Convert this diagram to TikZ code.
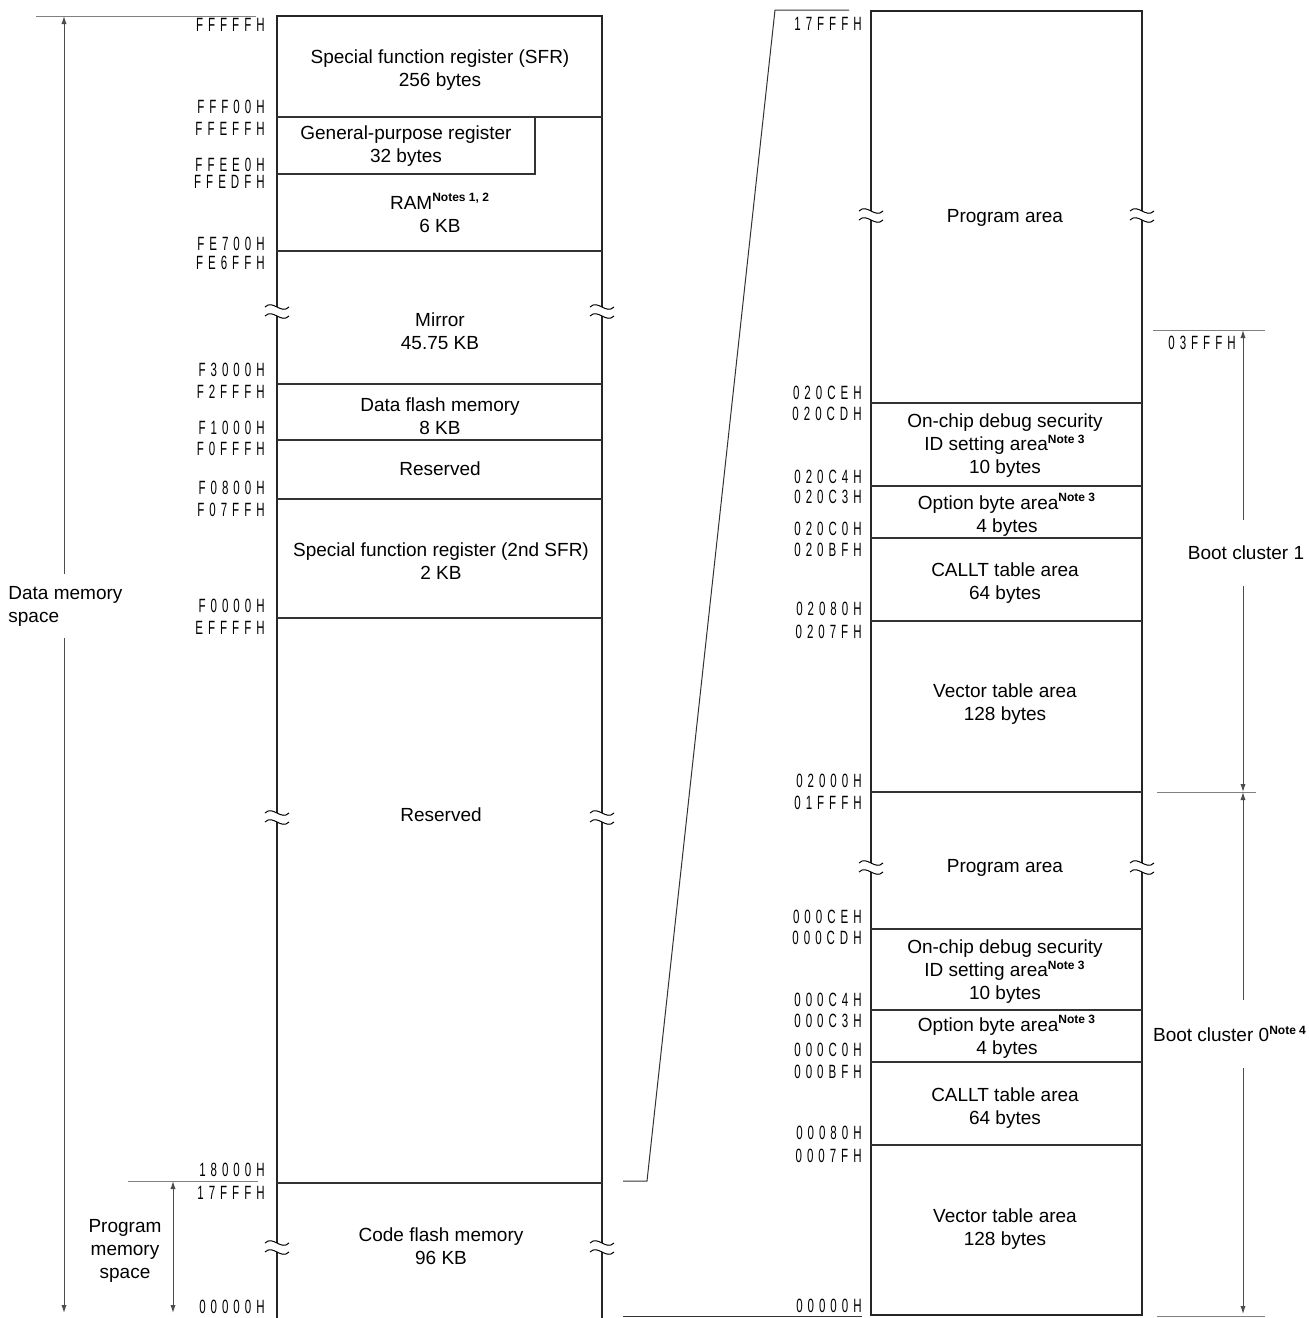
\documentclass[tikz,border=0pt]{standalone}
\usepackage{fontspec}
\setmainfont{Liberation Sans}
\newfontfamily\addrfont[FakeStretch=0.6,LetterSpace=26]{Liberation Sans}
\usetikzlibrary{arrows.meta}
\newcommand\notemark[1]{\textsuperscript{\fontsize{6}{7}\selectfont\bfseries #1}}

\begin{document}
\begin{tikzpicture}[
  x=0.5pt, y=-0.5pt,
  every node/.style={font=\fontsize{9.5}{11.5}\selectfont},
  area/.style={align=center, inner sep=1pt, yshift=-1pt},
  addr/.style={anchor=east, inner sep=0pt, font=\addrfont\fontsize{9.6}{10}\selectfont},
  frame/.style={line width=1.2pt, black!85},
  sep/.style={line width=0.6pt, black!80},
  guide/.style={line width=0.5pt, black!50},
  arr/.style={-{Latex[length=4pt,width=2.6pt]}, line width=0.5pt, black!70},
  span/.style={align=center, inner xsep=1pt, inner ysep=13pt},
  breakmark/.pic={
    \fill[white] (-12,-3) .. controls (-4,-11) and (4,5) .. (12,-3)
      -- (12,6) .. controls (4,14) and (-4,-2) .. (-12,6) -- cycle;
    \draw[line width=0.5pt] (-12,-3) .. controls (-4,-11) and (4,5) .. (12,-3);
    \draw[line width=0.5pt] (-12,6) .. controls (-4,-2) and (4,14) .. (12,6);
  },
]
\useasboundingbox (0,0) rectangle (1309,1318);

%% ---- left map: data memory space ----
\draw[frame] (277,1318) -- (277,16) -- (602,16) -- (602,1318);
\foreach \y in {117,251,384,440,499,618,1183}
  \draw[sep] (277,\y) -- (602,\y);
\draw[sep] (277,174) -| (535,117);

\node[area] (sfr)    at (440,68)   {Special function register (SFR)\\256 bytes};
\node[area] (gpr)    at (406,144)  {General-purpose register\\32 bytes};
\node[area] (ram)    at (440,211)  {RAM\notemark{Notes 1, 2}\\6 KB};
\node[area] (mirror) at (440,329)  {Mirror\\45.75 KB};
\node[area] (dflash) at (440,414)  {Data flash memory\\8 KB};
\node[area] (resA)   at (440,467)  {Reserved};
\node[area] (sfrB)   at (441,559)  {Special function register (2nd SFR)\\2 KB};
\node[area] (resB)   at (441,813)  {Reserved};
\node[area] (cflash) at (441,1244) {Code flash memory\\96 KB};

\foreach \t/\y [count=\i] in {FFFFFH/25,FFF00H/107,FFEFFH/129,FFEE0H/165,
    FFEDFH/182,FE700H/244,FE6FFH/263,F3000H/370,F2FFFH/392,F1000H/428,
    F0FFFH/449,F0800H/488,F07FFH/510,F0000H/606,EFFFFH/628,18000H/1170,
    17FFFH/1193,00000H/1307}
  \node[addr] (la\i) at (265,\y) {\t};

\foreach \y in {310,816,1246} {
  \pic at (277,\y) {breakmark};
  \pic at (602,\y) {breakmark};
}

%% ---- left spans ----
\draw[guide] (36,16) -- (256,16);
\coordinate (dmtop) at (64,16);
\coordinate (dmbot) at (64,1313);
\node[anchor=west, align=left, inner xsep=0pt, inner ysep=6pt] (dms) at (8,606)
  {Data memory\\space};
\draw[arr] (dms.north -| dmtop) -- (dmtop);
\draw[arr] (dms.south -| dmtop) -- (dmbot);

\draw[guide] (128,1181) -- (258,1181);
\coordinate (pmtop) at (173,1181);
\coordinate (pmbot) at (173,1313);
\node[area] (pms) at (125,1249) {Program\\memory\\space};
\draw[arr, {Latex[length=4pt,width=2.6pt]}-{Latex[length=4pt,width=2.6pt]}]
  (pmtop) -- (pmbot);

%% ---- zoom lines ----
\draw[sep, line width=0.5pt] (623,1181) -- (647,1181) -- (775,10) -- (849,10);
\draw[sep, line width=0.5pt] (623,1316) -- (862,1316);

%% ---- right map: code flash detail ----
\draw[frame] (871,11) rectangle (1142,1315);
\foreach \y in {403,486,538,621,792,929,1010,1062,1145}
  \draw[sep] (871,\y) -- (1142,\y);

\node[area] (progA)  at (1005,216)  {Program area};
\node[area] (ocdA)   at (1005,444)  {On-chip debug security\\ID setting area\notemark{Note 3}\\10 bytes};
\node[area] (optA)   at (1007,513)  {Option byte area\notemark{Note 3}\\4 bytes};
\node[area] (calltA) at (1005,581)  {CALLT table area\\64 bytes};
\node[area] (vecA)   at (1005,702)  {Vector table area\\128 bytes};
\node[area] (progB)  at (1005,866)  {Program area};
\node[area] (ocdB)   at (1005,970)  {On-chip debug security\\ID setting area\notemark{Note 3}\\10 bytes};
\node[area] (optB)   at (1007,1035) {Option byte area\notemark{Note 3}\\4 bytes};
\node[area] (calltB) at (1005,1106) {CALLT table area\\64 bytes};
\node[area] (vecB)   at (1005,1227) {Vector table area\\128 bytes};

\foreach \t/\y [count=\i] in {17FFFH/24,020CEH/393,020CDH/414,020C4H/477,
    020C3H/497,020C0H/529,020BFH/550,02080H/609,0207FH/632,02000H/781,
    01FFFH/803,000CEH/917,000CDH/938,000C4H/1000,000C3H/1021,000C0H/1050,
    000BFH/1072,00080H/1133,0007FH/1156,00000H/1306}
  \node[addr] (ra\i) at (862,\y) {\t};

\foreach \y in {214,866} {
  \pic at (871,\y) {breakmark};
  \pic at (1142,\y) {breakmark};
}

%% ---- boot clusters ----
\draw[guide] (1153,330) -- (1265,330);
\draw[guide] (1157,792) -- (1256,792);
\draw[guide] (1157,1316) -- (1265,1316);
\node[addr] (bcaddr) at (1236,343) {03FFFH};
\coordinate (bctop) at (1243,330);
\coordinate (bcmid) at (1243,792);
\coordinate (bcbot) at (1243,1314);
\node[span] (bc1) at (1246,553)  {Boot cluster 1};
\node[span] (bc0) at (1230,1034) {Boot cluster 0\notemark{Note 4}};
\draw[arr] (bc1.north -| bctop) -- (bctop);
\draw[arr] (bc1.south -| bctop) -- (bcmid);
\draw[arr] (bc0.north -| bctop) -- (bcmid);
\draw[arr] (bc0.south -| bctop) -- (bcbot);
\end{tikzpicture}
\end{document}
